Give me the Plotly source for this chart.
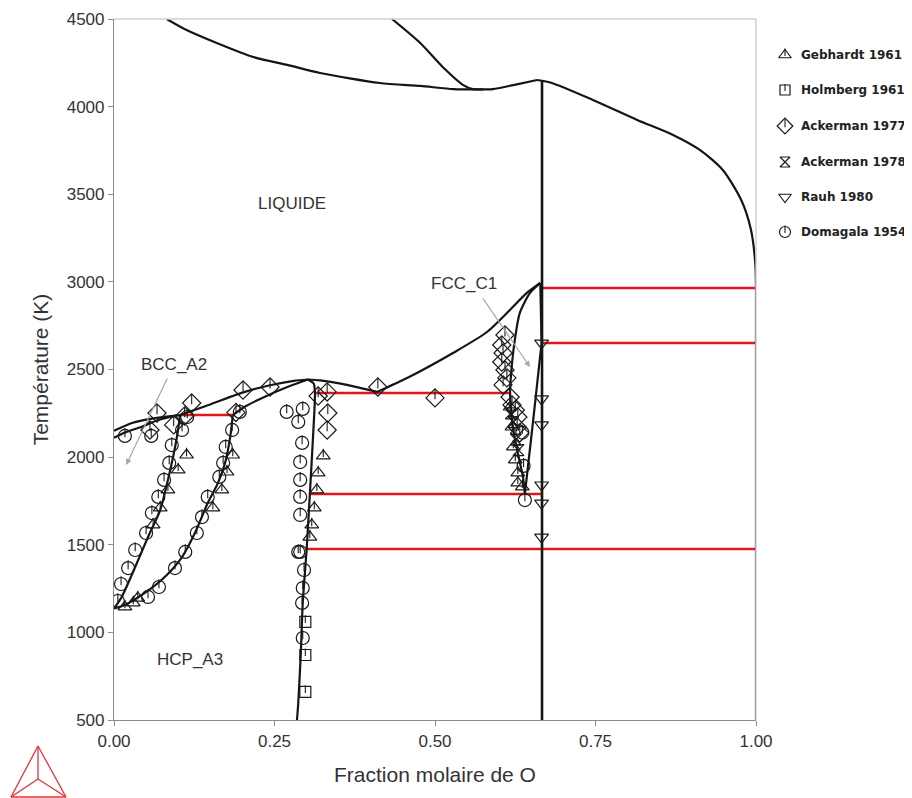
import plotly.graph_objects as go

# ---------------- phase boundaries (x = fraction molaire de O, T in K) ----------------
gas_left_x = [0.082, 0.113, 0.16, 0.217, 0.27, 0.321, 0.414, 0.477, 0.529, 0.565, 0.59, 0.622, 0.659]
gas_left_T = [4500, 4437, 4363, 4283, 4238, 4192, 4135, 4118, 4100, 4098, 4100, 4123, 4152]
gas_upper_x = [0.433, 0.477, 0.512, 0.544, 0.559, 0.575]
gas_upper_T = [4500, 4363, 4226, 4123, 4100, 4098]
gas_right_x = [0.659, 0.682, 0.746, 0.815, 0.87, 0.913, 0.948, 0.977, 0.992, 0.999, 1.0]
gas_right_T = [4152, 4135, 4038, 3924, 3840, 3752, 3640, 3467, 3300, 3100, 2965]
zro2_x = [0.6667, 0.6667]
zro2_T = [4150, 500]
o_edge_x = [1.0, 1.0]
o_edge_T = [2965, 500]

bcc_liq_x = [0.0, 0.028, 0.064, 0.103]
bcc_liq_T = [2150, 2195, 2223, 2240]
bcc_sol_x = [0.0, 0.017, 0.044, 0.069, 0.098]
bcc_sol_T = [2110, 2140, 2175, 2212, 2238]
hcp_liq_x = [0.103, 0.142, 0.2, 0.243, 0.28, 0.302]
hcp_liq_T = [2240, 2290, 2368, 2410, 2435, 2443]
hcp_sol_x = [0.185, 0.205, 0.235, 0.27, 0.302]
hcp_sol_T = [2240, 2290, 2345, 2400, 2443]
bcc_solvus_x = [0.103, 0.098, 0.092, 0.084, 0.072, 0.053, 0.033, 0.012, 0.0]
bcc_solvus_T = [2240, 2115, 2001, 1870, 1698, 1544, 1373, 1202, 1136]
hcp_solvus_x = [0.185, 0.181, 0.173, 0.162, 0.146, 0.126, 0.106, 0.079, 0.048, 0.017, 0.0]
hcp_solvus_T = [2240, 2115, 1967, 1853, 1738, 1567, 1430, 1316, 1225, 1156, 1136]
hcp_right_x = [0.302, 0.311, 0.313, 0.31, 0.305, 0.3, 0.294, 0.291, 0.287, 0.285]
hcp_right_T = [2443, 2420, 2366, 2115, 1784, 1470, 1168, 882, 597, 500]
liq_mid_x = [0.302, 0.321, 0.363, 0.41]
liq_mid_T = [2443, 2438, 2412, 2372]
liq_ox_x = [0.41, 0.45, 0.477, 0.528, 0.581, 0.612, 0.643, 0.664]
liq_ox_T = [2372, 2440, 2490, 2594, 2714, 2822, 2937, 2994]
c1_left_x = [0.664, 0.648, 0.632, 0.625, 0.62, 0.617, 0.622, 0.629, 0.637, 0.64]
c1_left_T = [2994, 2937, 2822, 2686, 2537, 2366, 2155, 2024, 1887, 1790]
c1_right_x = [0.666, 0.653, 0.64]
c1_right_T = [2651, 2212, 1790]
c1_top_x = [0.664, 0.666]
c1_top_T = [2994, 2651]

# invariant isotherms (red)
iso_T = [2965, 2651, 2366, 2240, 1790, 1476]
iso_x0 = [0.6667, 0.6667, 0.313, 0.103, 0.305, 0.299]
iso_x1 = [1.0, 1.0, 0.617, 0.185, 0.6667, 1.0]

# ---------------- experimental points ----------------
geb_x = [0.113, 0.1, 0.084, 0.072, 0.061, 0.037, 0.03, 0.017,
         0.185, 0.176, 0.168, 0.154,
         0.326, 0.318, 0.316, 0.312, 0.308, 0.305,
         0.617, 0.62, 0.622, 0.625, 0.629, 0.629, 0.636]
geb_T = [2012, 1927, 1813, 1710, 1613, 1196, 1168, 1145,
         2012, 1915, 1813, 1710,
         2007, 1910, 1813, 1710, 1613, 1544,
         2286, 2172, 2058, 1984, 1910, 1853, 1830]
holm_x = [0.298, 0.298, 0.298]
holm_T = [1060, 871, 660]
ack77_x = [0.056, 0.067, 0.093, 0.121, 0.11, 0.201, 0.243, 0.19,
           0.318, 0.332, 0.333, 0.332, 0.411, 0.5,
           0.609, 0.604, 0.606, 0.604, 0.609, 0.612, 0.606, 0.617, 0.62, 0.625, 0.629, 0.628, 0.632]
ack77_T = [2155, 2252, 2184, 2309, 2235, 2383, 2400, 2255,
           2349, 2372, 2252, 2155, 2400, 2338,
           2697, 2640, 2594, 2543, 2497, 2452, 2412, 2343, 2298, 2269, 2229, 2172, 2138]
ack78_x = [0.618, 0.622, 0.626, 0.63]
ack78_T = [2250, 2200, 2100, 2040]
rauh_x = [0.666, 0.666, 0.666, 0.666, 0.666, 0.666]
rauh_T = [2651, 2332, 2184, 1841, 1738, 1544]
dom_x = [0.017, 0.058, 0.106, 0.114, 0.09, 0.086, 0.078, 0.069, 0.059, 0.05, 0.033, 0.022, 0.011, 0.006,
         0.196, 0.184, 0.174, 0.17, 0.164, 0.146, 0.137, 0.129, 0.111, 0.095, 0.07, 0.053,
         0.269, 0.294, 0.287, 0.293, 0.29, 0.29, 0.29, 0.29, 0.29, 0.287, 0.296, 0.294, 0.293, 0.294,
         0.636, 0.638, 0.64]
dom_T = [2121, 2121, 2155, 2229, 2069, 1967, 1870, 1773, 1681, 1567, 1470, 1367, 1276, 1179,
         2258, 2155, 2058, 1967, 1887, 1773, 1658, 1567, 1459, 1367, 1259, 1202,
         2258, 2275, 2201, 2081, 1972, 1870, 1773, 1670, 1459, 1459, 1356, 1253, 1168, 968,
         2140, 1950, 1755]

series_names = ["Gebhardt 1961", "Holmberg 1961", "Ackerman 1977",
                "Ackerman 1978", "Rauh 1980", "Domagala 1954"]

labels = ["LIQUIDE", "FCC_C1", "BCC_A2", "HCP_A3"]
label_x = [0.277, 0.545, 0.093, 0.118]
label_T = [3450, 2990, 2526, 843]

x_ticks = [0.0, 0.25, 0.5, 0.75, 1.0]
x_ticktext = ["0.00", "0.25", "0.50", "0.75", "1.00"]

# ---------------- layout geometry (page pixels; the page body has an 8 px margin) ----------------
BODY = 8
W, H = 912 - BODY, 798 - BODY
ML = 114 - BODY
MT = 19 - BODY
PLOT_W = 642
PLOT_H = 701
MB = H - MT - PLOT_H
PAPER_W = W - ML
main_dom = PLOT_W / PAPER_W

def sx(p):  # screen pixel -> legend-axis coordinate (figure pixel)
    return p - BODY

fig = go.Figure()

BLACK = "#151515"
RED = "#e3161c"
MK = "#1a1a1a"

for T, a, b in zip(iso_T, iso_x0, iso_x1):
    fig.add_trace(go.Scatter(x=[a, b], y=[T, T], mode="lines",
                             line=dict(color=RED, width=2.6),
                             showlegend=False, hoverinfo="skip"))

def curve(x, y, smooth=True, width=2.2):
    fig.add_trace(go.Scatter(x=x, y=y, mode="lines",
                             line=dict(color=BLACK, width=width,
                                       shape="spline" if smooth else "linear",
                                       smoothing=0.7),
                             showlegend=False, hoverinfo="skip"))

curve(gas_left_x, gas_left_T)
curve(gas_upper_x, gas_upper_T)
curve(gas_right_x, gas_right_T)
curve(zro2_x, zro2_T, smooth=False, width=2.6)
curve(o_edge_x, o_edge_T, smooth=False)
curve(bcc_liq_x, bcc_liq_T)
curve(bcc_sol_x, bcc_sol_T)
curve(hcp_liq_x, hcp_liq_T)
curve(hcp_sol_x, hcp_sol_T)
curve(bcc_solvus_x, bcc_solvus_T)
curve(hcp_solvus_x, hcp_solvus_T)
curve(hcp_right_x, hcp_right_T)
curve(liq_mid_x, liq_mid_T)
curve(liq_ox_x, liq_ox_T)
curve(c1_left_x, c1_left_T)
curve(c1_right_x, c1_right_T)
curve(c1_top_x, c1_top_T, smooth=False)

series = [
    (geb_x, geb_T, "triangle-up-open", 12, True),
    (holm_x, holm_T, "square-open", 11, True),
    (ack77_x, ack77_T, "diamond-open", 14, True),
    (ack78_x, ack78_T, "hourglass-open", 11, False),
    (rauh_x, rauh_T, "triangle-down-open", 12, False),
    (dom_x, dom_T, "circle-open", 13, True),
]
K_per_px = 4000.0 / PLOT_H

leg_sym_x = sx(785)
leg_text_x = sx(799)
leg_y = [sx(v) for v in [55, 90, 126, 162, 197, 232]]
leg_size = [11, 10, 12, 10, 11, 11]

for i, ((xs, ts, sym, size, tick), name) in enumerate(zip(series, series_names)):
    mk = dict(symbol=sym, size=size, color=MK, line=dict(width=1.2, color=MK))
    mk_leg = dict(symbol=sym, size=leg_size[i], color=MK, line=dict(width=1.2, color=MK))
    fig.add_trace(go.Scatter(x=xs, y=ts, mode="markers", marker=mk,
                             showlegend=False, hoverinfo="skip"))
    fig.add_trace(go.Scatter(x=[leg_sym_x], y=[leg_y[i]], mode="markers", marker=mk_leg,
                             xaxis="x2", yaxis="y2", showlegend=False, hoverinfo="skip"))
    if tick:
        tk = dict(symbol="line-ns", size=size / 2.0, line=dict(width=1.1, color=MK))
        off = (size / 4.0) * K_per_px
        fig.add_trace(go.Scatter(x=xs, y=[t + off for t in ts], mode="markers",
                                 marker=tk, showlegend=False, hoverinfo="skip"))
        tk_leg = dict(symbol="line-ns", size=leg_size[i] / 2.0, line=dict(width=1.1, color=MK))
        fig.add_trace(go.Scatter(x=[leg_sym_x], y=[leg_y[i] - leg_size[i] / 4.0], mode="markers",
                                 marker=tk_leg, xaxis="x2", yaxis="y2",
                                 showlegend=False, hoverinfo="skip"))

annotations = []
for i, name in enumerate(series_names):
    annotations.append(dict(x=leg_text_x, y=leg_y[i], xref="x2", yref="y2", text="<b>" + name + "</b>",
                            showarrow=False, xanchor="left", yanchor="middle",
                            font=dict(family="DejaVu Sans", size=12, color="#222222")))
for t, x, y in zip(labels, label_x, label_T):
    annotations.append(dict(x=x, y=y, xref="x", yref="y", text=t, showarrow=False,
                            font=dict(family="Arial", size=17, color="#333333")))
annotations.append(dict(x=0.648, y=2514, ax=0.573, ay=2914, xref="x", yref="y",
                        axref="x", ayref="y", text="", showarrow=True, arrowhead=2,
                        arrowsize=1, arrowwidth=1.2, arrowcolor="#a8a8a8"))
annotations.append(dict(x=0.019, y=1955, ax=0.084, ay=2457, xref="x", yref="y",
                        axref="x", ayref="y", text="", showarrow=True, arrowhead=2,
                        arrowsize=1, arrowwidth=1.2, arrowcolor="#a8a8a8"))

shapes = [
    dict(type="line", xref="paper", yref="paper", x0=0, y0=1, x1=main_dom, y1=1,
         line=dict(color="#d0d0d0", width=1.5)),
    dict(type="line", xref="paper", yref="paper", x0=main_dom, y0=0, x1=main_dom, y1=1,
         line=dict(color="#d0d0d0", width=1.5)),
]
# logo (red tetrahedron), screen pixel positions mapped to paper coordinates
lx = lambda p: (p - BODY - ML) / PAPER_W
ly = lambda p: (H - MB - (p - BODY)) / PLOT_H
apex, bl, br, ctr = (38, 746), (11, 797), (66, 797), (38, 779)
for (a, b) in [(apex, bl), (apex, br), (bl, br), (apex, ctr), (bl, ctr), (br, ctr)]:
    shapes.append(dict(type="line", xref="paper", yref="paper",
                       x0=lx(a[0]), y0=ly(a[1]), x1=lx(b[0]), y1=ly(b[1]),
                       line=dict(color="#e0343a", width=1.3)))

axis_font = dict(family="Arial", size=17, color="#333333")
fig.update_layout(
    width=W, height=H,
    margin=dict(l=ML, r=0, t=MT, b=MB),
    paper_bgcolor="white", plot_bgcolor="white",
    font=dict(family="Arial", color="#333333"),
    showlegend=False,
    xaxis=dict(domain=[0, main_dom], range=[0, 1], tickvals=x_ticks, ticktext=x_ticktext,
               showline=True, linecolor="#8a8a8a", linewidth=1.2,
               ticks="outside", ticklen=5, tickcolor="#8a8a8a",
               showgrid=False, zeroline=False, automargin=False,
               tickfont=axis_font,
               title=dict(text="Fraction molaire de O", standoff=17,
                          font=dict(family="Arial", size=21, color="#333333"))),
    yaxis=dict(range=[500, 4500], dtick=500, tick0=500,
               showline=True, linecolor="#8a8a8a", linewidth=1.2,
               ticks="outside", ticklen=5, tickcolor="#8a8a8a",
               showgrid=False, zeroline=False, automargin=False,
               tickfont=axis_font,
               title=dict(text="Température (K)", standoff=12,
                          font=dict(family="Arial", size=21, color="#333333"))),
    xaxis2=dict(domain=[main_dom, 1], range=[ML + PLOT_W, W], visible=False,
                anchor="y2", fixedrange=True),
    yaxis2=dict(domain=[0, 1], range=[MT + PLOT_H, MT], visible=False,
                anchor="x2", fixedrange=True),
    annotations=annotations,
    shapes=shapes,
)

fig.write_html("out.html")
